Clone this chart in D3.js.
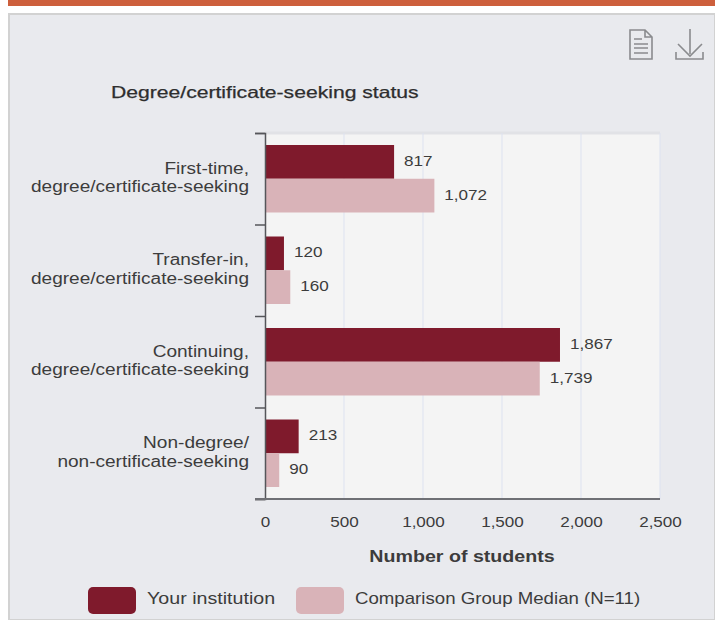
<!DOCTYPE html>
<html><head><meta charset="utf-8">
<script src="https://cdn.jsdelivr.net/npm/d3@7"></script>
<style>html,body{margin:0;padding:0;background:#fff}svg{display:block}text{font-family:"Liberation Sans",Arial,sans-serif}</style>
</head><body><svg id="c" width="715" height="620"></svg>
<script>
const categories=[["First-time,","degree/certificate-seeking"],["Transfer-in,","degree/certificate-seeking"],["Continuing,","degree/certificate-seeking"],["Non-degree/","non-certificate-seeking"]];
const institution=[817,120,1867,213];
const comparison=[1072,160,1739,90];
const seriesNames=["Your institution","Comparison Group Median (N=11)"];
const colors=["#7f1a2c","#d9b3b8"];
const xTicks=[0,500,1000,1500,2000,2500];
const svg=d3.select("#c");
const fmt=d3.format(",");
const textC="#3c3c3c";
// widen glyphs horizontally while keeping the text as real text
function stretch(sel,k){
 sel.each(function(){
  const w=this.getComputedTextLength();
  this.setAttribute("textLength",(w*k).toFixed(1));
  this.setAttribute("lengthAdjust","spacingAndGlyphs");
 });
 return sel;
}
// page frame
svg.append("rect").attr("x",8).attr("y",0).attr("width",707).attr("height",6).attr("fill","#cd5f3c");
svg.append("rect").attr("x",9).attr("y",14).attr("width",706).attr("height",606).attr("fill","#e9eaee").attr("stroke","#d2d2d2").attr("stroke-width",2);
const L=265,R=660,T=133,B=499;
const x=d3.scaleLinear().domain([0,2500]).range([L,R]);
const y=d3.scaleBand().domain(d3.range(categories.length)).range([T,B]).paddingInner(0).paddingOuter(0);
const pad=12;
svg.append("rect").attr("x",L).attr("y",T).attr("width",R-L).attr("height",B-T).attr("fill","#f4f4f4");
svg.append("line").attr("x1",L).attr("x2",R).attr("y1",T).attr("y2",T).attr("stroke","#e1e2e6").attr("stroke-width",3);
svg.selectAll("line.g").data(xTicks.slice(1)).join("line").attr("class","g")
 .attr("x1",d=>x(d)).attr("x2",d=>x(d)).attr("y1",T).attr("y2",B).attr("stroke","#dde2f0").attr("stroke-width",1);
// bars
const barH=d=>(y.bandwidth()-2*pad)/2;
[institution,comparison].forEach((vals,s)=>{
 svg.selectAll("rect.s"+s).data(vals).join("rect").attr("class","s"+s)
  .attr("x",L).attr("y",(d,i)=>y(i)+pad+s*barH()).attr("width",d=>x(d)-L).attr("height",barH()).attr("fill",colors[s]);
 stretch(svg.selectAll("text.s"+s).data(vals).join("text").attr("class","s"+s)
  .attr("x",d=>x(d)+10).attr("y",(d,i)=>y(i)+pad+s*barH()+barH()/2+4).attr("font-size",15.5).attr("fill",textC).text(d=>fmt(d)),1.1);
});
// y axis
const yAxis=d3.axisLeft(d3.scaleLinear().domain([0,4]).range([T,B])).ticks(4).tickSize(10).tickFormat("");
const ga=svg.append("g").attr("transform",`translate(${L},0)`).call(yAxis);
ga.selectAll("path,line").attr("stroke","#55565a").attr("stroke-width",1.5);
// bottom axis
svg.append("line").attr("x1",L-10).attr("x2",R).attr("y1",B).attr("y2",B).attr("stroke","#6f7075").attr("stroke-width",2);
stretch(svg.selectAll("text.xt").data(xTicks).join("text").attr("class","xt").attr("x",d=>x(d)+0.5).attr("y",527)
 .attr("text-anchor","middle").attr("font-size",15.5).attr("fill",textC).text(d=>fmt(d)),1.1);
// category labels
categories.forEach((c,i)=>{
 c.forEach((t,j)=>stretch(svg.append("text").attr("x",249).attr("y",y(i)+40.5+j*18.5).attr("text-anchor","end")
  .attr("font-size",16).attr("fill",textC).text(t),1.19));
});
stretch(svg.append("text").attr("x",111).attr("y",98).attr("font-size",16.5).attr("fill","#2e2e2e").attr("stroke","#2e2e2e").attr("stroke-width",0.25).text("Degree/certificate-seeking status"),1.28);
stretch(svg.append("text").attr("x",462).attr("y",562).attr("text-anchor","middle").attr("font-size",16.5).attr("font-weight","bold").attr("fill",textC).text("Number of students"),1.19);
// legend
const lg=[{x:88,w:48,tx:147,k:1.19},{x:296,w:48,tx:355,k:1.13}];
lg.forEach((l,i)=>{
 svg.append("rect").attr("x",l.x).attr("y",587).attr("width",l.w).attr("height",27).attr("rx",5).attr("fill",colors[i]);
 stretch(svg.append("text").attr("x",l.tx).attr("y",603.5).attr("font-size",16.5).attr("fill",textC).text(seriesNames[i]),l.k);
});
// icons
const ic=svg.append("g").attr("fill","none").attr("stroke","#8a8b8e").attr("stroke-width",1.6);
ic.append("path").attr("d","M630 30H645L652 37V59H630Z M645 30V37H652");
ic.append("path").attr("d","M634 39H642 M634 44H648 M634 48H648 M634 53H648");
ic.append("path").attr("d","M690 29V54 M678 44L690 56L702 44 M676 52V59H703V52");
</script></body></html>
